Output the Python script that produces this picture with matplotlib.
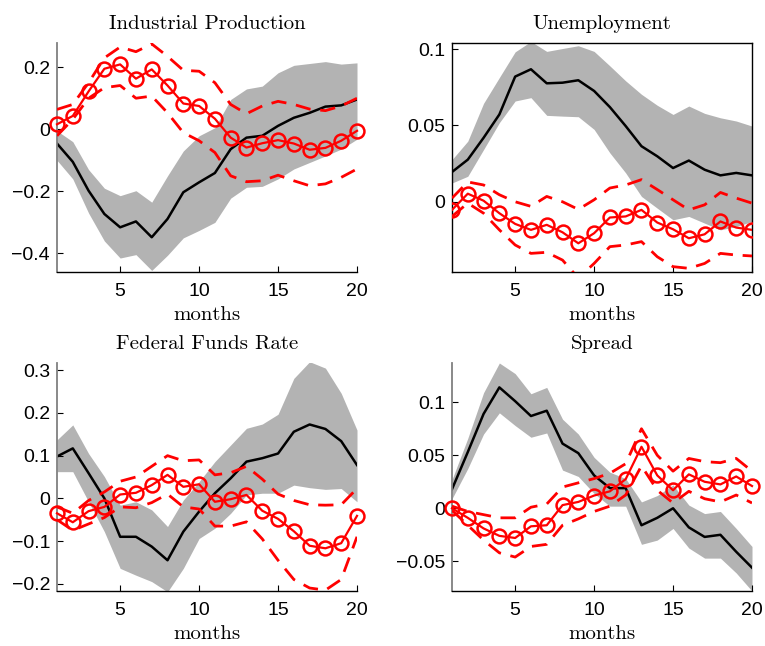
import numpy as np
import matplotlib
matplotlib.use('Agg')
import matplotlib.pyplot as plt

months = np.arange(1, 21)

# Industrial Production
ip_resp = [-0.046, -0.105, -0.198, -0.273, -0.316, -0.297, -0.348, -0.289, -0.203, -0.171,
           -0.141, -0.064, -0.027, -0.021, 0.011, 0.037, 0.053, 0.073, 0.077, 0.096]
ip_lo = [-0.10, -0.16, -0.27, -0.36, -0.415, -0.404, -0.455, -0.406, -0.35, -0.326,
         -0.30, -0.222, -0.187, -0.184, -0.16, -0.128, -0.107, -0.086, -0.064, -0.032]
ip_hi = [-0.005, -0.04, -0.13, -0.19, -0.214, -0.198, -0.235, -0.15, -0.07, -0.021,
         0.005, 0.096, 0.13, 0.139, 0.182, 0.206, 0.212, 0.218, 0.21, 0.214]
ip_alt = [0.016, 0.043, 0.122, 0.195, 0.209, 0.163, 0.193, 0.141, 0.083, 0.075,
          0.034, -0.027, -0.059, -0.045, -0.035, -0.046, -0.066, -0.060, -0.037, -0.005]
ip_alt_lo = [-0.021, 0.032, 0.10, 0.134, 0.141, 0.10, 0.107, 0.053, -0.011, -0.037,
             -0.075, -0.15, -0.169, -0.166, -0.148, -0.166, -0.182, -0.176, -0.155, -0.128]
ip_alt_hi = [0.064, 0.08, 0.15, 0.23, 0.265, 0.25, 0.275, 0.235, 0.19, 0.187,
             0.15, 0.08, 0.05, 0.075, 0.09, 0.08, 0.065, 0.06, 0.075, 0.10]

# Unemployment
un_resp = [0.0195, 0.0276, 0.0419, 0.0572, 0.082, 0.0868, 0.0776, 0.078, 0.0796, 0.0726,
           0.062, 0.0496, 0.0364, 0.0298, 0.0221, 0.027, 0.021, 0.0173, 0.0189, 0.0173]
un_lo = [0.0123, 0.0167, 0.0342, 0.0518, 0.066, 0.0682, 0.0566, 0.0561, 0.0557, 0.0474,
         0.032, 0.0189, 0.0035, -0.0042, -0.0118, -0.0096, -0.014, -0.0184, -0.0162, -0.0129]
un_hi = [0.0276, 0.0397, 0.0645, 0.0814, 0.0982, 0.105, 0.0985, 0.1004, 0.1022, 0.0985,
         0.089, 0.0792, 0.0704, 0.0632, 0.0572, 0.0627, 0.0579, 0.055, 0.0529, 0.0496]
un_alt = [-0.0053, 0.0053, 0.0007, -0.0075, -0.0145, -0.0184, -0.0151, -0.020, -0.0272, -0.0206,
          -0.0103, -0.0096, -0.0053, -0.0136, -0.018, -0.0239, -0.0213, -0.0129, -0.0169, -0.0184]
un_alt_lo = [-0.0096, -0.0009, -0.0075, -0.0184, -0.0283, -0.0338, -0.0331, -0.0382, -0.050, -0.0404,
             -0.0294, -0.0283, -0.0261, -0.036, -0.0425, -0.0436, -0.0404, -0.0338, -0.0349, -0.0355]
un_alt_hi = [0.0024, 0.013, 0.011, 0.0046, 0.0, -0.003, 0.0035, 0.0, -0.005, 0.0013,
             0.009, 0.011, 0.0145, 0.008, 0.0013, -0.0053, -0.002, 0.0061, 0.0024, -0.0009]

# Federal Funds Rate
ff_resp = [0.098, 0.117, 0.059, 0.0, -0.09, -0.09, -0.113, -0.145, -0.078, -0.031,
           0.012, 0.047, 0.086, 0.094, 0.105, 0.156, 0.173, 0.1625, 0.134, 0.078]
ff_lo = [0.0625, 0.0625, -0.008, -0.078, -0.164, -0.18, -0.195, -0.219, -0.164, -0.094,
         -0.07, -0.035, 0.008, 0.012, 0.012, 0.031, 0.025, 0.021, 0.023, -0.008]
ff_hi = [0.137, 0.172, 0.105, 0.051, -0.016, -0.008, -0.027, -0.066, -0.004, 0.039,
         0.086, 0.125, 0.164, 0.174, 0.197, 0.281, 0.32, 0.305, 0.246, 0.16]
ff_alt = [-0.035, -0.056, -0.030, -0.020, 0.009, 0.013, 0.031, 0.055, 0.027, 0.033,
          -0.008, -0.002, 0.008, -0.029, -0.048, -0.077, -0.111, -0.117, -0.105, -0.041]
ff_alt_lo = [-0.05, -0.075, -0.06, -0.045, -0.02, -0.022, -0.01, 0.01, -0.02, -0.025,
             -0.065, -0.065, -0.055, -0.095, -0.145, -0.19, -0.21, -0.215, -0.19, -0.09]
ff_alt_hi = [-0.02, -0.035, -0.005, 0.015, 0.04, 0.05, 0.075, 0.10, 0.088, 0.09,
             0.055, 0.06, 0.075, 0.045, 0.01, -0.005, -0.015, -0.016, -0.015, 0.023]

# Spread
sp_resp = [0.018, 0.053, 0.089, 0.114, 0.101, 0.087, 0.092, 0.061, 0.052, 0.031,
           0.019, 0.019, -0.016, -0.009, 0.0, -0.018, -0.027, -0.025, -0.041, -0.056]
sp_lo = [0.009, 0.0375, 0.070, 0.09, 0.078, 0.067, 0.071, 0.036, 0.030, 0.014,
         0.002, 0.002, -0.034, -0.030, -0.019, -0.0375, -0.047, -0.047, -0.061, -0.078]
sp_hi = [0.027, 0.066, 0.109, 0.137, 0.127, 0.108, 0.114, 0.084, 0.070, 0.048,
         0.034, 0.028, 0.006, 0.012, 0.022, 0.003, -0.005, -0.003, -0.019, -0.036]
sp_alt = [0.0, -0.009, -0.019, -0.026, -0.028, -0.017, -0.016, 0.003, 0.006, 0.012,
          0.016, 0.0275, 0.058, 0.031, 0.017, 0.032, 0.025, 0.0225, 0.030, 0.021]
sp_alt_lo = [-0.002, -0.016, -0.03, -0.042, -0.046, -0.036, -0.034, -0.016, -0.01, -0.003,
             0.002, 0.0125, 0.04, 0.017, 0.005, 0.016, 0.009, 0.006, 0.0125, 0.005]
sp_alt_hi = [0.002, -0.003, -0.006, -0.009, -0.009, 0.001, 0.004, 0.02, 0.024, 0.028,
             0.033, 0.042, 0.075, 0.05, 0.035, 0.047, 0.044, 0.043, 0.047, 0.035]

titles = ['Industrial Production', 'Unemployment', 'Federal Funds Rate', 'Spread']
panels = [
    (ip_resp, ip_lo, ip_hi, ip_alt, ip_alt_lo, ip_alt_hi),
    (un_resp, un_lo, un_hi, un_alt, un_alt_lo, un_alt_hi),
    (ff_resp, ff_lo, ff_hi, ff_alt, ff_alt_lo, ff_alt_hi),
    (sp_resp, sp_lo, sp_hi, sp_alt, sp_alt_lo, sp_alt_hi),
]
ylims = [(-0.46, 0.278), (-0.046, 0.104), (-0.217, 0.317), (-0.078, 0.137)]
yticks = [[-0.4, -0.2, 0, 0.2], [0, 0.05, 0.1], [-0.2, -0.1, 0, 0.1, 0.2, 0.3], [-0.05, 0, 0.05, 0.1]]
yticklabels = [['\u22120.4', '\u22120.2', '0', '0.2'], ['0', '0.05', '0.1'],
               ['\u22120.2', '\u22120.1', '0', '0.1', '0.2', '0.3'], ['\u22120.05', '0', '0.05', '0.1']]

# axes rectangles in pixels (left, top, right, bottom)
W, H = 765, 646
boxes = [(57, 43, 357, 272), (452, 43, 752, 272), (57, 363, 357, 591), (452, 363, 752, 591)]

fig = plt.figure(figsize=(7.65, 6.46), dpi=100)
for i, (x0, y0, x1, y1) in enumerate(boxes):
    ax = fig.add_axes([x0 / W, 1 - y1 / H, (x1 - x0) / W, (y1 - y0) / H])
    resp, lo, hi, alt, alt_lo, alt_hi = panels[i]
    ax.fill_between(months, lo, hi, color='#b3b3b3', lw=0, zorder=1)
    ax.plot(months, resp, color='black', lw=1.8, zorder=2)
    ax.plot(months, alt_lo, color='red', lw=2.0, dashes=(5.5, 3.5), zorder=3)
    ax.plot(months, alt_hi, color='red', lw=2.0, dashes=(5.5, 3.5), zorder=3)
    ax.plot(months, alt, color='red', lw=1.6, marker='o', ms=10, mfc='none', mec='red',
            mew=1.8, zorder=4, clip_on=(i == 1))
    ax.set_xlim(1, 20)
    ax.set_ylim(*ylims[i])
    ax.set_xticks([5, 10, 15, 20])
    ax.set_yticks(yticks[i])
    ax.set_yticklabels(yticklabels[i])
    ax.tick_params(direction='in', length=4, width=0.8, labelsize=14)
    ax.tick_params(axis='x', pad=8)
    ax.tick_params(axis='y', pad=5)
    for lab in ax.get_xticklabels() + ax.get_yticklabels():
        lab.set_fontfamily('Liberation Sans')
    ax.set_title(titles[i], fontfamily='cmr10', fontsize=15, pad=10)
    ax.set_xlabel('months', fontfamily='cmr10', fontsize=15, labelpad=4)
    if i == 1:
        for s in ax.spines.values():
            s.set_color('black')
            s.set_linewidth(1.0)
    else:
        ax.spines['top'].set_visible(False)
        ax.spines['right'].set_visible(False)
        ax.spines['left'].set_color('#808080')
        ax.spines['left'].set_linewidth(1.3)
        ax.spines['bottom'].set_color('black')
        ax.spines['bottom'].set_linewidth(1.0)

fig.savefig('out.png', dpi=100)
